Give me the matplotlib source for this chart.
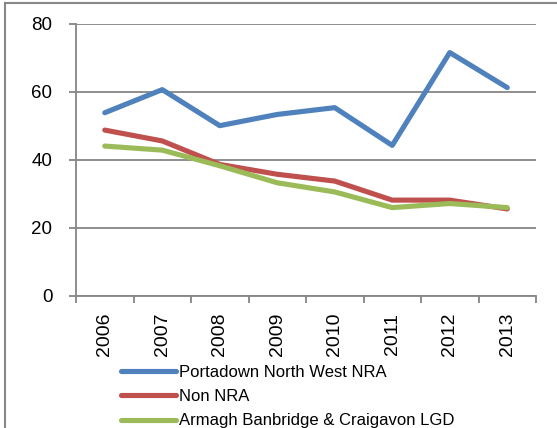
import matplotlib
matplotlib.use("Agg")
import matplotlib.pyplot as plt
from matplotlib.lines import Line2D

plt.rcParams['font.family'] = ['Liberation Sans', 'DejaVu Sans']

years = ["2006", "2007", "2008", "2009", "2010", "2011", "2012", "2013"]
portadown = [53.9, 60.7, 50.1, 53.4, 55.4, 44.3, 71.6, 61.3]
non_nra = [48.8, 45.6, 38.7, 35.8, 33.8, 28.2, 28.2, 25.6]
abc_lgd = [44.1, 42.9, 38.3, 33.3, 30.6, 26.0, 27.2, 26.0]
series_names = ["Portadown North West NRA", "Non NRA", "Armagh Banbridge & Craigavon LGD"]
colors = ["#4F81BD", "#C0504D", "#9BBB59"]
yticks = [0, 20, 40, 60, 80]

W, H = 557, 428
fig = plt.figure(figsize=(W / 100, H / 100), dpi=100)
ax = fig.add_axes([76 / W, 1 - 296 / H, (536 - 76) / W, (296 - 24) / H])

xs = [i + 0.5 for i in range(len(years))]
for vals, name, c in zip([portadown, non_nra, abc_lgd], series_names, colors):
    ax.plot(xs, vals, color=c, lw=3.7, label=name, solid_capstyle='round', solid_joinstyle='round')

ax.set_xlim(0, len(years))
ax.set_ylim(0, 80)
ax.set_yticks(yticks)
ax.set_yticklabels([str(v) for v in yticks])
ax.yaxis.grid(True, color='#868686', lw=1.3)
ax.set_axisbelow(True)

ax.set_xticks(range(len(years) + 1))
ax.set_xticklabels([])
ax.set_xticks(xs, minor=True)
ax.set_xticklabels(years, minor=True, rotation=90)
ax.tick_params(axis='x', which='major', length=5, width=1.3, color='#868686', direction='out')
ax.tick_params(axis='x', which='minor', length=0, pad=12, labelsize=14)
ax.tick_params(axis='y', length=5, width=1.3, color='#868686', direction='out', pad=12, labelsize=13.5)

for s in ['top', 'right']:
    ax.spines[s].set_visible(False)
for s in ['left', 'bottom']:
    ax.spines[s].set_color('#868686')
    ax.spines[s].set_linewidth(1.3)

leg = fig.legend(loc='upper left', bbox_to_anchor=(121 / W, 1 - 365 / H), frameon=False,
                 fontsize=12, handlelength=3.3, handletextpad=0.2, labelspacing=0.55,
                 borderpad=0, borderaxespad=0)

fig.add_artist(Line2D([5 / W, 5 / W], [0, 1 - 3 / H], transform=fig.transFigure, color='#888888', lw=1.5))
fig.add_artist(Line2D([5 / W, 1], [1 - 3 / H, 1 - 3 / H], transform=fig.transFigure, color='#888888', lw=1.5))

fig.savefig("out.png", dpi=100)
